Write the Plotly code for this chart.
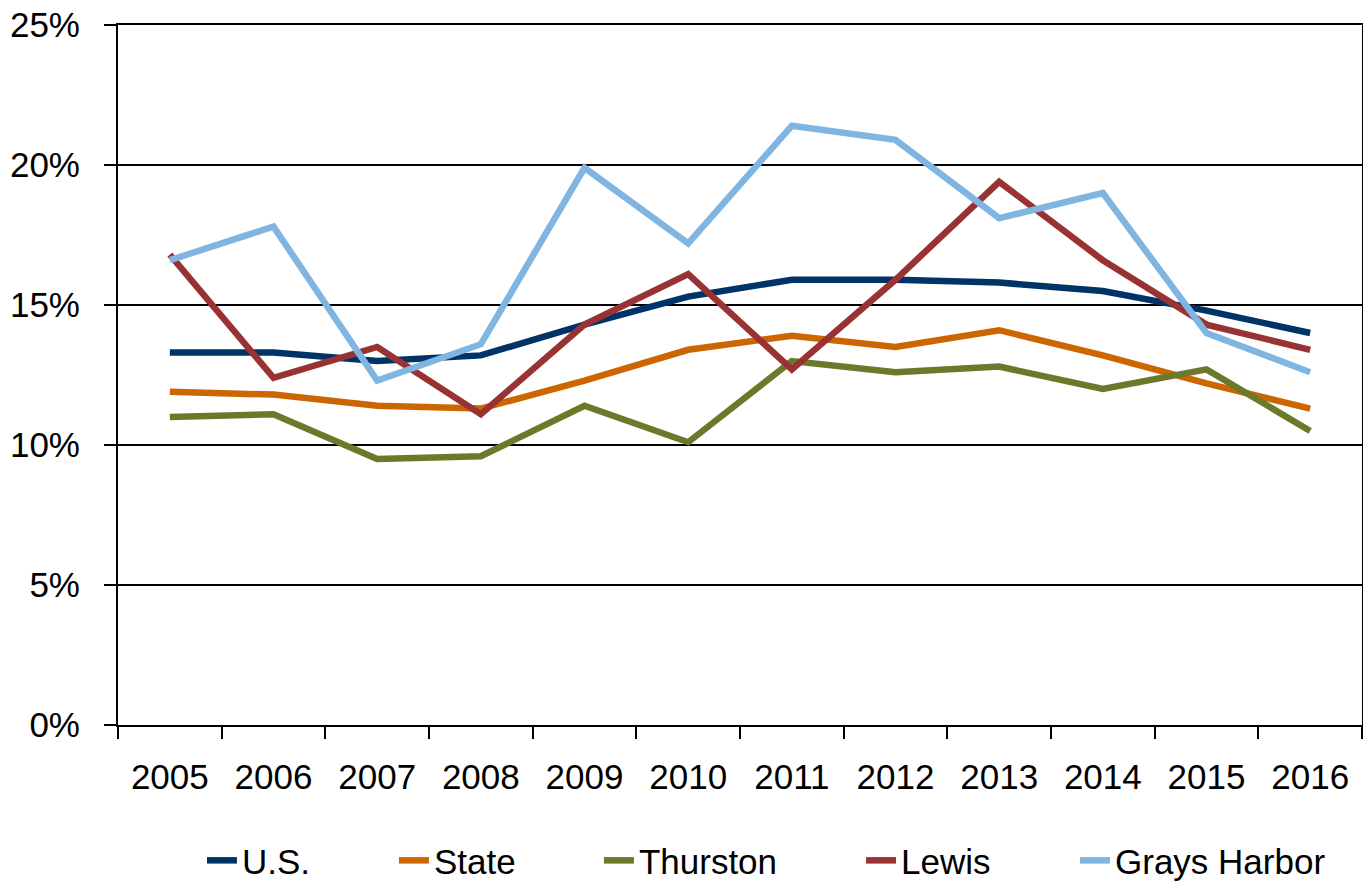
import plotly.graph_objects as go

years = ["2005", "2006", "2007", "2008", "2009", "2010", "2011", "2012", "2013", "2014", "2015", "2016"]
us = [13.3, 13.3, 13.0, 13.2, 14.3, 15.3, 15.9, 15.9, 15.8, 15.5, 14.8, 14.0]
state = [11.9, 11.8, 11.4, 11.3, 12.3, 13.4, 13.9, 13.5, 14.1, 13.2, 12.2, 11.3]
thurston = [11.0, 11.1, 9.5, 9.6, 11.4, 10.1, 13.0, 12.6, 12.8, 12.0, 12.7, 10.5]
lewis = [16.8, 12.4, 13.5, 11.1, 14.3, 16.1, 12.7, 15.9, 19.4, 16.6, 14.3, 13.4]
grays = [16.6, 17.8, 12.3, 13.6, 19.9, 17.2, 21.4, 20.9, 18.1, 19.0, 14.0, 12.6]

series = [
    ("U.S.", us, "#003366"),
    ("State", state, "#CC6600"),
    ("Thurston", thurston, "#6B7A2A"),
    ("Lewis", lewis, "#993333"),
    ("Grays Harbor", grays, "#7FB5E0"),
]
legend_ids = ["legend", "legend2", "legend3", "legend4", "legend5"]
legend_x = [0.0675, 0.2218, 0.3866, 0.5973, 0.7693]

FONT = "Liberation Sans, Arial, sans-serif"

fig = go.Figure()
for (name, vals, color), lid in zip(series, legend_ids):
    fig.add_trace(go.Scatter(
        x=years, y=vals, name=name, mode="lines",
        line=dict(color=color, width=6.5), legend=lid,
    ))

legend_common = dict(
    orientation="h", xanchor="left", y=-0.1937, yanchor="middle",
    font=dict(family=FONT, size=35, color="black"),
    bgcolor="rgba(0,0,0,0)",
)

layout_legends = {lid: dict(x=lx, **legend_common) for lid, lx in zip(legend_ids, legend_x)}

fig.update_layout(
    width=1363, height=891,
    margin=dict(l=118, r=1, t=25, b=164),
    paper_bgcolor="white", plot_bgcolor="white",
    font=dict(family=FONT, size=34, color="black"),
    showlegend=True,
    xaxis=dict(
        type="category", range=[-0.5, 11.5], tickson="boundaries",
        ticks="outside", ticklen=12,
        tickcolor="black", tickwidth=2, automargin=False,
        showline=True, linecolor="black", linewidth=2, mirror=True,
        showgrid=False, ticklabelstandoff=20, ticklabeloverflow="allow",
        tickfont=dict(family=FONT, size=35, color="black"),
    ),
    yaxis=dict(
        range=[0, 25], dtick=5, ticksuffix="%", ticks="outside", ticklen=12,
        tickcolor="black", tickwidth=2, automargin=False,
        showline=True, linecolor="black", linewidth=2, mirror=True,
        showgrid=True, gridcolor="black", gridwidth=1.5,
        zeroline=False, ticklabelstandoff=17, ticklabeloverflow="allow",
        tickfont=dict(family=FONT, size=35, color="black"),
    ),
    **layout_legends,
)

fig.write_html(
    "out.html",
    config={"displayModeBar": False},
    post_script="document.body.style.margin='0';document.body.style.overflow='hidden';",
)
